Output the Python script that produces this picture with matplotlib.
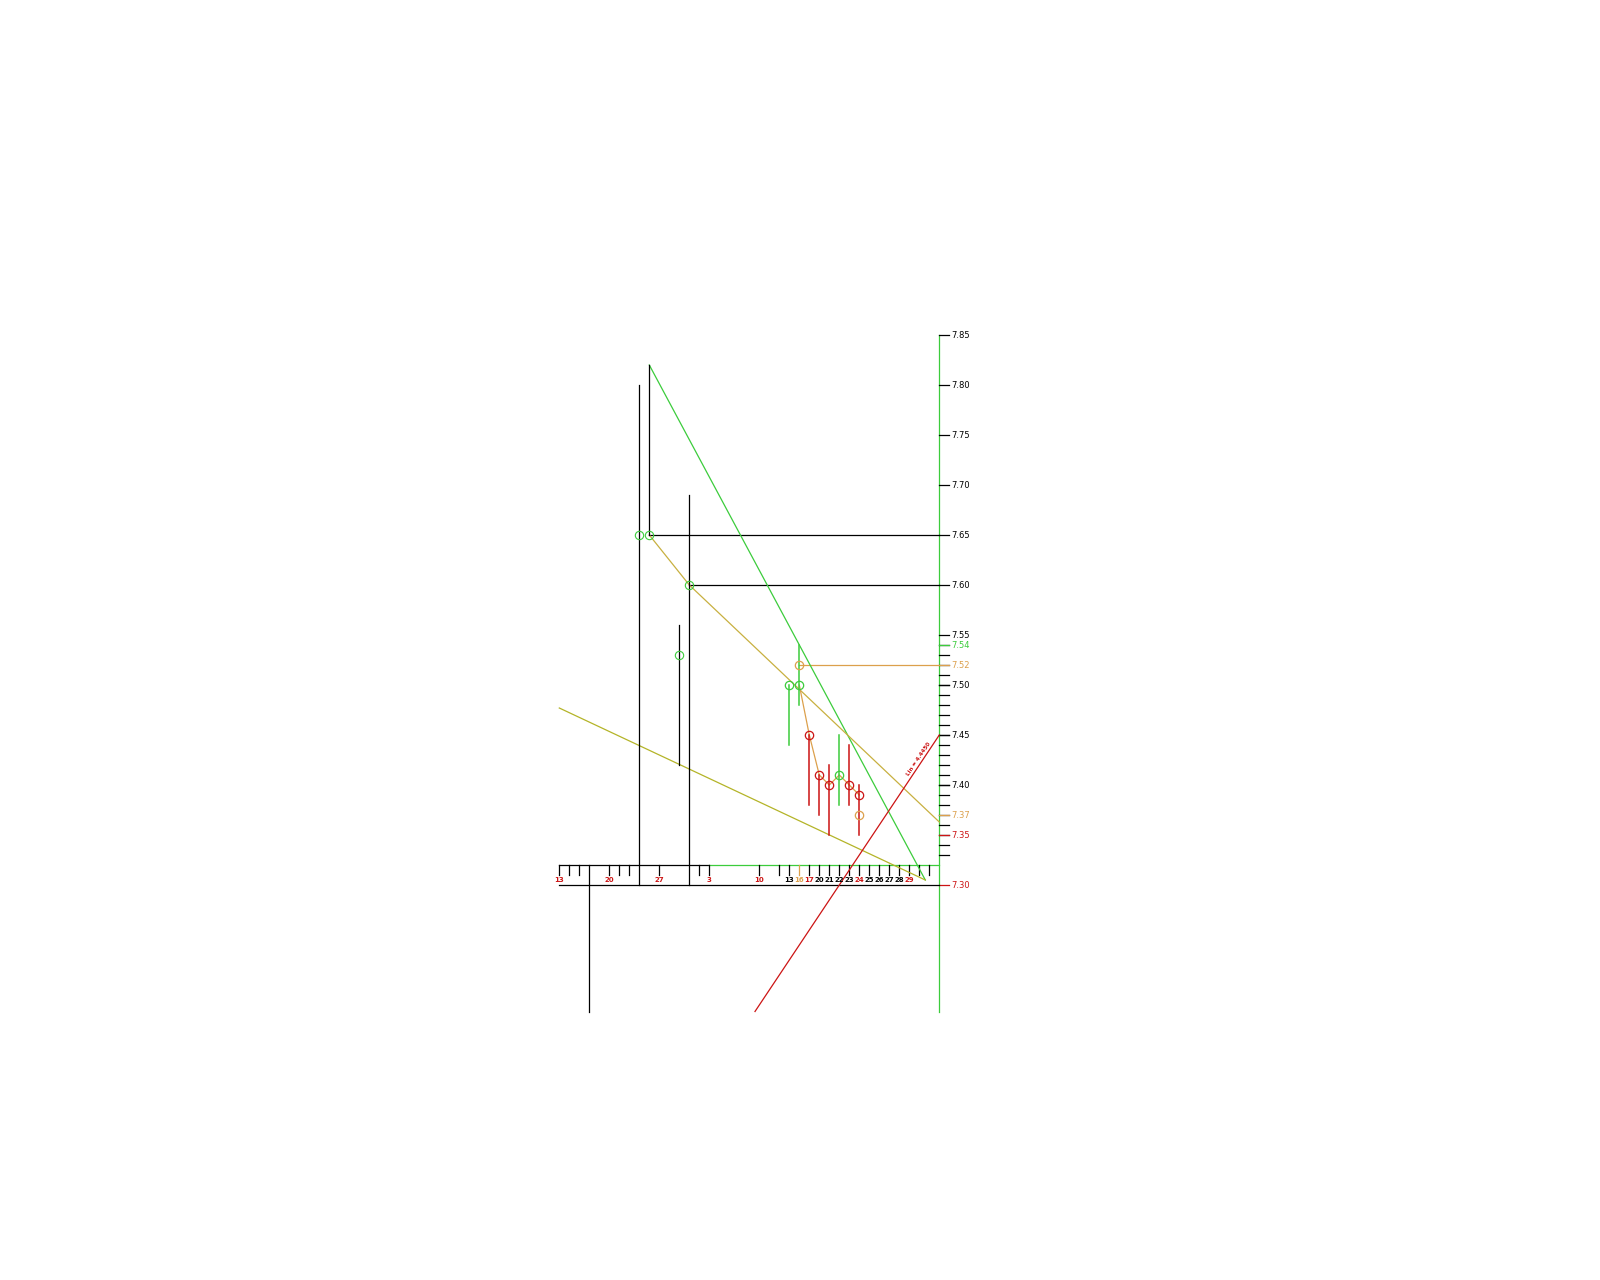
import matplotlib
matplotlib.use("Agg")
import matplotlib.pyplot as plt
import numpy as np

# Colours used by the chart
GREEN = '#3ccc3c'
RED = '#cc1414'
TAN = '#dca04c'
GOLD = '#c8b040'
OLIVE = '#b4b428'

# Recent candles (trading-day index, close, high, low)
candle_idx = [23, 24, 25, 26, 27, 28, 29, 30]
candle_close = [7.50, 7.50, 7.45, 7.41, 7.40, 7.41, 7.40, 7.39]
candle_high = [7.50, 7.54, 7.45, 7.41, 7.42, 7.45, 7.44, 7.40]
candle_low = [7.44, 7.48, 7.38, 7.37, 7.35, 7.38, 7.38, 7.35]
candle_up = [True, True, False, False, False, True, False, False]

# Older ranges on the left (black bars with green markers)
old_idx = [8, 9, 12, 13]
old_mark = [7.65, 7.65, 7.53, 7.60]
old_high = [7.80, 7.82, 7.56, 7.69]
old_low = [7.30, 7.65, 7.42, 7.30]

# Projected points (tan)
proj_idx = [24, 30]
proj_val = [7.52, 7.37]

# Trend lines (index, price)
green_trend_x = [9, 36.6]
green_trend_y = [7.82, 7.305]
olive_trend_x = [0, 36.6]
olive_trend_y = [7.477, 7.305]
gold_trend_x = [9, 13, 38]
gold_trend_y = [7.65, 7.60, 7.363]
red_trend_x = [19.57, 38]
red_trend_y = [7.1735, 7.45]

# Levels drawn out to the price axis
level_start = [9, 13, 24]
level_price = [7.65, 7.60, 7.52]

# Date ruler
xtick_idx = [0, 1, 2, 5, 6, 7, 10, 14, 15, 20] + list(range(22, 38))
xlabel_idx = [0, 5, 10, 15, 20, 23, 24, 25, 26, 27, 28, 29, 30, 31, 32, 33, 34, 35]
xlabel_text = ['13', '20', '27', '3', '10', '13', '16', '17', '20', '21', '22',
               '23', '24', '25', '26', '27', '28', '29']
xlabel_color = [RED, RED, RED, RED, RED, 'black', TAN, RED, 'black', 'black', 'black',
                'black', RED, 'black', 'black', 'black', 'black', RED]

# Price axis
major_prices = [7.85, 7.80, 7.75, 7.70, 7.65, 7.60, 7.55, 7.50, 7.45, 7.40]
minor_prices = [round(7.33 + 0.01 * k, 2) for k in range(22)]
special_prices = [7.54, 7.52, 7.37, 7.35, 7.30]
special_colors = [GREEN, TAN, TAN, RED, RED]

AXIS_X = 38
FLOOR = 7.1735

fig = plt.figure(figsize=(16, 12.8), dpi=100)
ax = fig.add_axes([0, 0, 1, 1])
ax.set_xlim(-55.93, 104.07)
ax.set_ylim(6.905, 8.185)
ax.axis('off')

lw = 0.9

# price axis line
ax.plot([AXIS_X, AXIS_X], [FLOOR, 7.85], color=GREEN, lw=lw)
for p in minor_prices:
    ax.plot([AXIS_X, AXIS_X + 1], [p, p], color='black', lw=lw)
for p in major_prices:
    ax.plot([AXIS_X, AXIS_X + 1], [p, p], color='black', lw=lw)
    if p in special_prices:
        continue
    ax.text(AXIS_X + 1.2, p, f"{p:.2f}", fontsize=6, va='center', ha='left', color='black')
for p, c in zip(special_prices, special_colors):
    ax.plot([AXIS_X, AXIS_X + 1], [p, p], color=c, lw=lw)
    ax.text(AXIS_X + 1.2, p, f"{p:.2f}", fontsize=6, va='center', ha='left', color=c)

# date ruler
ax.plot([0, 15], [7.32, 7.32], color='black', lw=lw)
ax.plot([15, AXIS_X], [7.32, 7.32], color=GREEN, lw=lw)
ax.plot([0, AXIS_X], [7.30, 7.30], color='black', lw=lw)
for i in xtick_idx:
    ax.plot([i, i], [7.32, 7.31], color=TAN if i == 24 else 'black', lw=lw)
for i, t, c in zip(xlabel_idx, xlabel_text, xlabel_color):
    ax.text(i, 7.3045, t, fontsize=5, ha='center', va='center', color=c, fontweight='bold')
ax.plot([3, 3], [7.32, FLOOR], color='black', lw=lw)

# levels
for s, p in zip(level_start, level_price):
    ax.plot([s, AXIS_X], [p, p], color=TAN if p == 7.52 else 'black', lw=lw)

# trend lines
ax.plot(green_trend_x, green_trend_y, color=GREEN, lw=lw)
ax.plot(olive_trend_x, olive_trend_y, color=OLIVE, lw=lw)
ax.plot(gold_trend_x, gold_trend_y, color=GOLD, lw=lw)
ax.plot(red_trend_x, red_trend_y, color=RED, lw=lw)
ax.text(35.9, 7.426, "Lin = 4.4450", fontsize=4, color=RED, rotation=56,
        ha='center', va='center', fontweight='bold')

# old black ranges
for i, m, h, l in zip(old_idx, old_mark, old_high, old_low):
    ax.plot([i, i], [l, h], color='black', lw=lw)
    ax.plot(i, m, 'o', ms=6, mfc='none', mec=GREEN, mew=0.8)

# link through the closes
ax.plot(candle_idx[1:], candle_close[1:], color=TAN, lw=lw)

# candles
for i, c, h, l, up in zip(candle_idx, candle_close, candle_high, candle_low, candle_up):
    col = GREEN if up else RED
    ax.plot([i, i], [l, h], color=col, lw=1.1)
    ax.plot(i, c, 'o', ms=6, mfc='none', mec=col, mew=0.9)

for i, p in zip(proj_idx, proj_val):
    ax.plot(i, p, 'o', ms=6, mfc='none', mec=TAN, mew=0.9)

plt.savefig("out.png", dpi=100, facecolor='white')
plt.close()
